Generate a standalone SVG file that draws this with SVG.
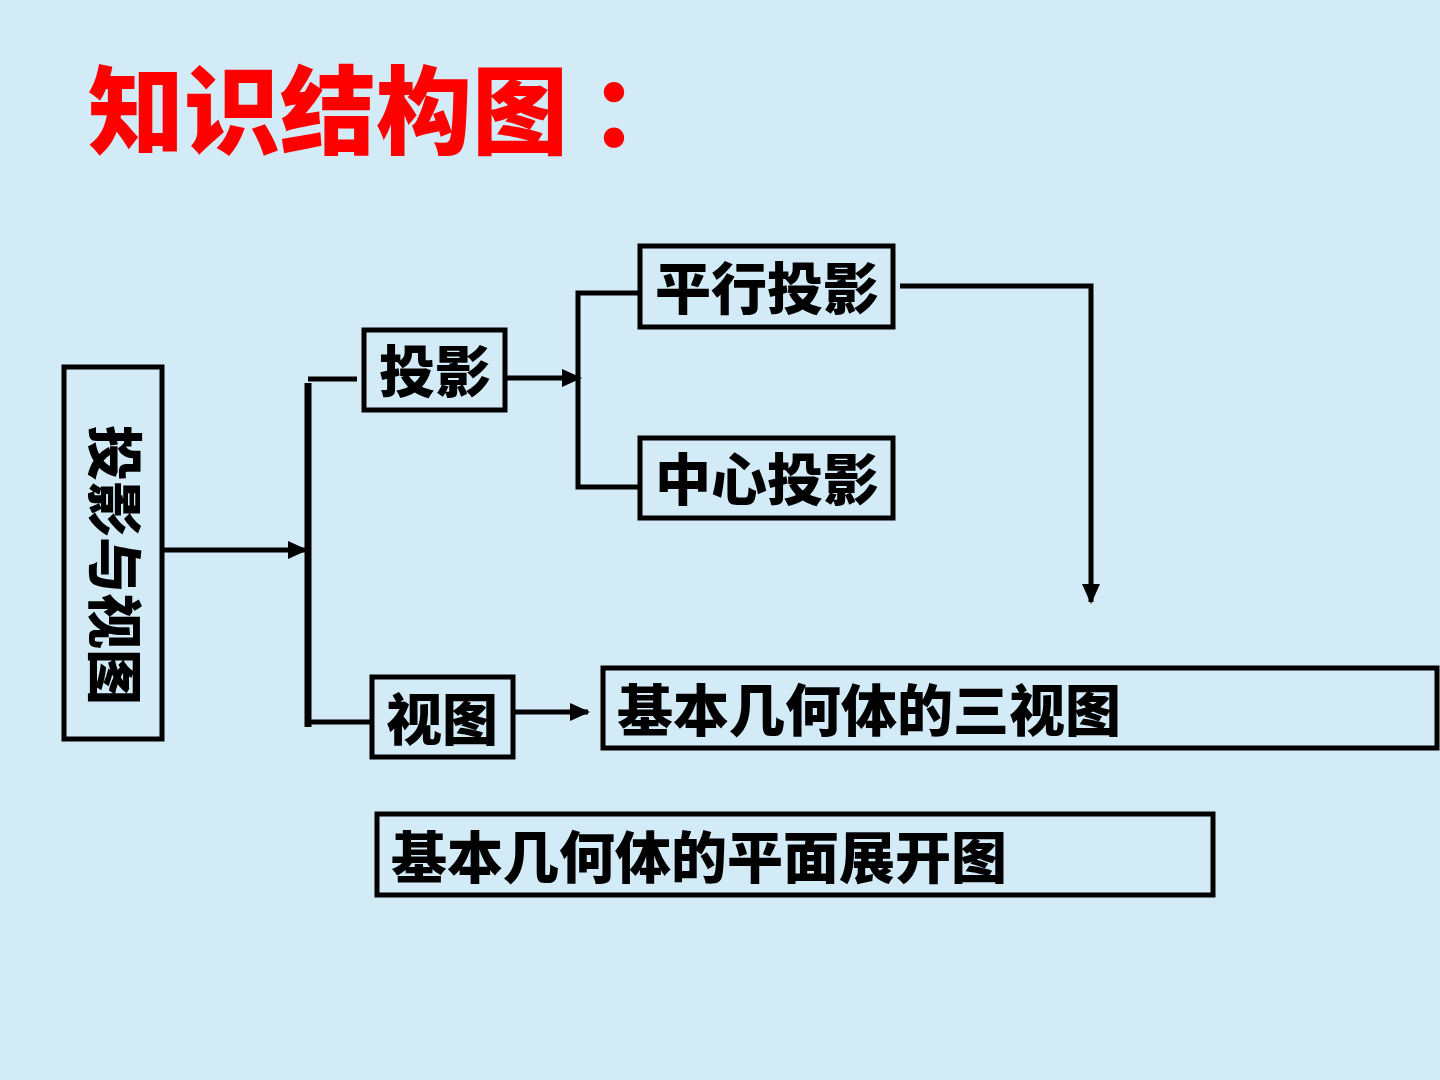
<svg xmlns="http://www.w3.org/2000/svg" width="1440" height="1080" viewBox="0 0 1440 1080">
<defs>
<style>
.box{fill:none;stroke:#000;stroke-width:5}
.t{font-family:"Noto Sans CJK SC","Noto Sans",sans-serif;font-weight:900;fill:#000;font-size:56px}
.ln{fill:none;stroke:#000;stroke-width:5}
</style>
<marker id="ah" viewBox="0 0 20 18" refX="18" refY="9" markerWidth="20" markerHeight="18" orient="auto" markerUnits="userSpaceOnUse">
<path d="M0,0 L20,9 L0,18 z" fill="#000"/>
</marker>
</defs>
<rect width="1440" height="1080" fill="#d3eaf7"/>
<text x="88" y="146" font-family="'Noto Sans CJK SC',sans-serif" font-weight="900" font-size="96" fill="#ff0000">知识结构图 ：</text>

<g id="n-root">
<rect class="box" x="64" y="367" width="98" height="372"/>
<text class="t" transform="translate(118,565) rotate(90)" text-anchor="middle" dominant-baseline="central">投影与视图</text>
</g>
<g id="n-proj">
<rect class="box" x="364" y="330" width="141" height="80"/>
<text class="t" x="435" y="392" text-anchor="middle">投影</text>
</g>
<g id="n-view">
<rect class="box" x="372" y="677" width="141" height="80"/>
<text class="t" x="442" y="740" text-anchor="middle">视图</text>
</g>
<g id="n-parallel">
<rect class="box" x="640" y="246" width="253" height="81"/>
<text class="t" x="767" y="309" text-anchor="middle">平行投影</text>
</g>
<g id="n-central">
<rect class="box" x="640" y="438" width="253" height="80"/>
<text class="t" x="767" y="500" text-anchor="middle">中心投影</text>
</g>
<g id="n-three">
<rect class="box" x="603" y="668" width="834" height="80"/>
<text class="t" x="617" y="731">基本几何体的三视图</text>
</g>
<g id="n-unfold">
<rect class="box" x="377" y="814" width="836" height="81"/>
<text class="t" x="391" y="878">基本几何体的平面展开图</text>
</g>

<g id="connectors">
<line class="ln" x1="162" y1="550" x2="306" y2="550" marker-end="url(#ah)"/>
<line x1="308" y1="383" x2="308" y2="727" stroke="#000" stroke-width="7"/>
<line class="ln" x1="308" y1="379" x2="357" y2="379"/>
<line class="ln" x1="308" y1="722" x2="371" y2="722"/>
<line class="ln" x1="505" y1="378" x2="580" y2="378" marker-end="url(#ah)"/>
<polyline class="ln" points="640,293 578,293 578,487 640,487"/>
<polyline class="ln" points="900,286 1091,286 1091,602" marker-end="url(#ah)"/>
<line class="ln" x1="513" y1="712" x2="588" y2="712" marker-end="url(#ah)"/>
</g>
</svg>
